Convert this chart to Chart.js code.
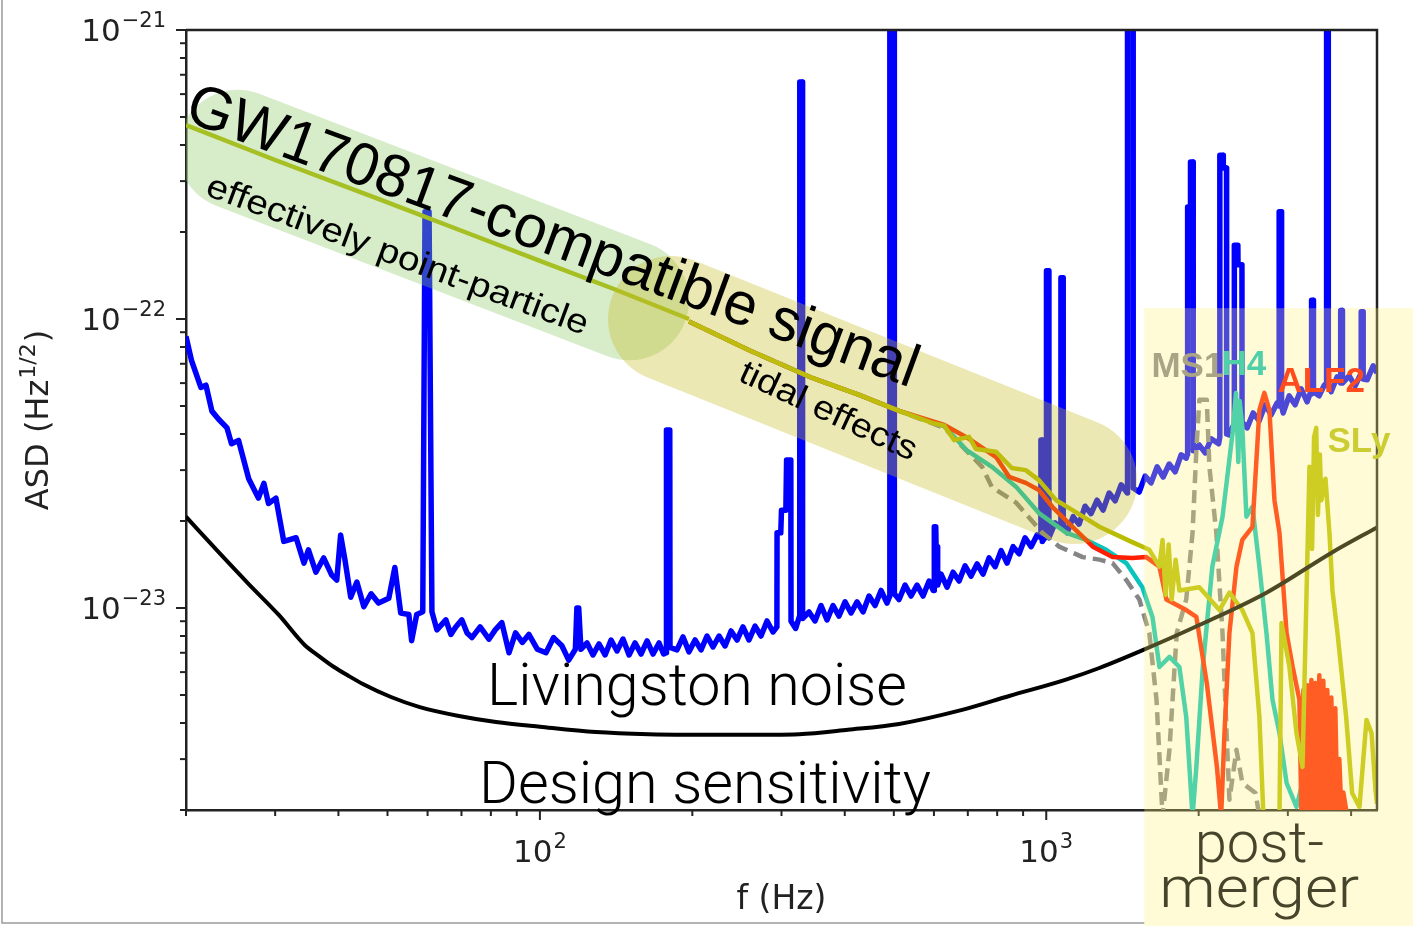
<!DOCTYPE html>
<html>
<head>
<meta charset="utf-8">
<script src="https://cdn.jsdelivr.net/npm/chart.js@4.4.0/dist/chart.umd.min.js"></script>
<style>
  html, body { margin: 0; padding: 0; background: #fff; }
</style>
</head>
<body>
<canvas id="asdChart" width="1413" height="926"></canvas>
<script>
// axis ticks (Hz and strain/sqrt(Hz))
const xTicks = [20, 30, 40, 50, 60, 70, 80, 90, 100, 200, 300, 400, 500, 600, 700, 800, 900, 1000, 2000, 3000, 4000];
const xMajor = [100, 1000];
const xMajorExp = ['2', '3'];
const yTicks = [2e-24, 3e-24, 4e-24, 5e-24, 6e-24, 7e-24, 8e-24, 9e-24,
  1e-23, 2e-23, 3e-23, 4e-23, 5e-23, 6e-23, 7e-23, 8e-23, 9e-23,
  1e-22, 2e-22, 3e-22, 4e-22, 5e-22, 6e-22, 7e-22, 8e-22, 9e-22, 1e-21];
const yMajor = [1e-23, 1e-22, 1e-21];
const yMajorExp = ['\u221223', '\u221222', '\u221221'];

// Livingston noise ASD [f, asd] (the tall pieces are the lines)
const livingstonNoise = [
  [20, 8.7e-23], [20.5, 7.2e-23], [21.4, 5.8e-23], [21.9, 5.9e-23], [22.5, 4.8e-23], [23.2, 4.5e-23],
  [24.1, 4.2e-23], [24.6, 3.7e-23], [25.4, 3.8e-23], [26.6, 2.8e-23], [27.8, 2.4e-23], [28.5, 2.7e-23],
  [29.1, 2.3e-23], [30.1, 2.4e-23], [31.2, 1.7e-23], [33.0, 1.75e-23], [34.2, 1.43e-23], [34.9, 1.59e-23],
  [36.1, 1.33e-23], [37.4, 1.49e-23], [38.8, 1.30e-23], [39.7, 1.25e-23], [40.4, 1.79e-23], [41.2, 1.47e-23],
  [42.3, 1.09e-23], [43.5, 1.23e-23], [44.9, 1.01e-23], [46.4, 1.12e-23], [48.0, 1.04e-23], [50.3, 1.08e-23],
  [51.7, 1.38e-23], [53.1, 9.6e-24], [55.1, 9.5e-24], [55.8, 7.7e-24], [57.1, 9.5e-24], [58.7, 9.7e-24],
  [59.3, 2.35e-22], [60.4, 2.35e-22], [61.2, 9.7e-24], [62.6, 8.4e-24], [65.2, 9.1e-24], [66.7, 8.1e-24],
  [68.2, 8.6e-24], [70.1, 9.1e-24], [71.8, 8.2e-24], [73.4, 7.9e-24], [76.2, 8.6e-24], [79.3, 7.8e-24],
  [81.6, 8.4e-24], [84.1, 8.9e-24], [86.9, 7.0e-24], [89.5, 8.2e-24], [92.3, 7.6e-24], [95.1, 8.1e-24],
  [98.8, 7.2e-24], [102.8, 7.0e-24], [106.4, 7.9e-24], [110.5, 7.4e-24], [114.0, 6.6e-24], [117.5, 7.2e-24],
  [118.3, 1.0e-23], [119.3, 1.0e-23], [120.5, 7.2e-24],
  [123.9, 7.57e-24], [127.3, 6.88e-24], [130.8, 7.51e-24], [134.5, 6.88e-24], [138.2, 7.75e-24], [142.0, 7.10e-24],
  [145.9, 7.81e-24], [150.0, 6.88e-24], [154.1, 7.57e-24], [158.4, 6.93e-24], [162.8, 7.69e-24], [167.3, 6.93e-24],
  [171.9, 7.57e-24], [175.5, 6.93e-24], [177.6, 7.0e-24], [177.8, 4.13e-23], [180.5, 4.13e-23], [180.7, 7.3e-24],
  [186.5, 7.16e-24], [191.7, 7.94e-24], [197.0, 7.05e-24], [202.5, 7.75e-24], [208.1, 7.16e-24], [213.8, 8.00e-24],
  [219.7, 7.33e-24], [225.8, 8.00e-24], [232.1, 7.39e-24], [238.5, 8.33e-24], [245.1, 7.75e-24], [251.8, 8.60e-24],
  [258.8, 7.75e-24], [266.0, 8.66e-24], [273.3, 8.00e-24], [280.9, 9.02e-24], [288.6, 8.26e-24],
  [293.8, 8.6e-24], [294, 1.82e-23], [299, 1.82e-23], [300, 2.18e-23], [306, 2.18e-23], [307, 3.25e-23],
  [313, 3.25e-23], [313.3, 9.0e-24], [320, 8.5e-24], [325.8, 9.4e-24], [326, 6.61e-22], [330, 6.61e-22],
  [330.2, 9.2e-24], [340.0, 9.69e-24], [349.4, 9.02e-24], [359.1, 1.02e-23], [369.0, 9.09e-24], [379.2, 1.02e-23],
  [389.7, 9.38e-24], [400.5, 1.05e-23], [411.6, 9.61e-24], [423.0, 1.05e-23], [434.7, 9.69e-24], [446.7, 1.10e-23],
  [459.1, 1.02e-23], [471.8, 1.15e-23], [484.8, 1.04e-23], [490.8, 1.1e-23], [491, 1.3e-21], [501, 1.3e-21],
  [501.2, 1.12e-23], [512.0, 1.07e-23], [526.2, 1.20e-23], [540.7, 1.10e-23], [555.7, 1.20e-23], [571.1, 1.10e-23],
  [586.9, 1.24e-23], [598, 1.15e-23], [600.8, 1.15e-23], [601, 1.91e-23], [605, 1.91e-23], [606, 1.63e-23],
  [610, 1.63e-23], [610.3, 1.2e-23], [619.8, 1.31e-23], [636.9, 1.18e-23], [654.6, 1.33e-23], [672.7, 1.24e-23],
  [691.3, 1.40e-23], [710.4, 1.29e-23], [730.1, 1.42e-23], [750.3, 1.31e-23], [771.0, 1.49e-23], [792.4, 1.39e-23],
  [814.3, 1.58e-23], [836.8, 1.43e-23], [860.0, 1.63e-23], [883.8, 1.54e-23], [908.2, 1.75e-23], [933.4, 1.63e-23],
  [959.2, 1.79e-23], [975.8, 1.75e-23], [976, 3.81e-23], [982, 3.81e-23], [982.2, 1.7e-23], [1000.8, 1.78e-23],
  [1001, 1.47e-22], [1012, 1.47e-22], [1012.2, 1.75e-23], [1041, 1.97e-23], [1068.8, 1.9e-23], [1069, 1.39e-22],
  [1080, 1.39e-22], [1080.2, 1.95e-23], [1100, 1.82e-23], [1130, 2.07e-23], [1161, 1.95e-23], [1193, 2.25e-23],
  [1226, 2.12e-23], [1260, 2.36e-23], [1295, 2.18e-23], [1331, 2.50e-23], [1368, 2.35e-23], [1406, 2.67e-23],
  [1446, 2.5e-23], [1447, 1.3e-21], [1484, 1.3e-21], [1485, 2.6e-23], [1526, 2.52e-23], [1568, 2.86e-23],
  [1611, 2.71e-23], [1656, 3.08e-23], [1702, 2.84e-23], [1749, 3.15e-23], [1797, 2.96e-23], [1847, 3.39e-23],
  [1890, 3.3e-23], [1901, 3.4e-23], [1902, 2.44e-22], [1925, 2.44e-22], [1927, 3.49e-22], [1950, 3.49e-22],
  [1951, 3.5e-23], [2004, 3.67e-23], [2060, 3.44e-23], [2117, 3.85e-23], [2190, 3.7e-23], [2201, 3.9e-23],
  [2202, 3.69e-22], [2235, 3.69e-22], [2237, 3.33e-22], [2270, 3.33e-22], [2271, 4.0e-23], [2297, 3.97e-23],
  [2345, 4.3e-23], [2351, 4.2e-23], [2352, 1.80e-22], [2390, 1.80e-22], [2392, 1.54e-22], [2435, 1.54e-22],
  [2436, 4.4e-23], [2493, 4.20e-23], [2562, 4.73e-23], [2633, 4.44e-23], [2706, 5.05e-23], [2781, 4.66e-23],
  [2858, 5.13e-23], [2883, 5.0e-23], [2884, 2.35e-22], [2915, 2.35e-22], [2916, 5.0e-23], [2937, 4.73e-23],
  [3018, 5.42e-23], [3101, 5.05e-23], [3187, 5.73e-23], [3275, 5.17e-23], [3330, 5.6e-23], [3341, 5.5e-23],
  [3342, 1.16e-22], [3370, 1.16e-22], [3371, 5.6e-23], [3459, 5.42e-23], [3540, 5.9e-23], [3577, 6.0e-23],
  [3578, 1.3e-21], [3605, 1.3e-21], [3606, 5.9e-23], [3653, 5.60e-23], [3754, 6.31e-23], [3814, 6.0e-23],
  [3815, 1.07e-22], [3845, 1.07e-22], [3846, 6.0e-23], [3965, 6.36e-23], [4075, 5.87e-23], [4170, 6.4e-23],
  [4187, 6.3e-23], [4188, 1.06e-22], [4225, 1.06e-22], [4226, 6.2e-23], [4303, 6.16e-23], [4422, 6.89e-23],
  [4500, 6.5e-23]
];

// design sensitivity (smooth black curve)
const designSensitivity = [
  [20, 2.07e-23], [23.2, 1.56e-23], [26.6, 1.21e-23], [30.5, 9.46e-24], [34.3, 7.45e-24], [36.6, 6.82e-24],
  [39.2, 6.25e-24], [41.9, 5.82e-24], [44.7, 5.46e-24], [50.8, 4.92e-24], [57.9, 4.54e-24], [69.2, 4.23e-24],
  [81.9, 4.03e-24], [100, 3.88e-24], [129, 3.72e-24], [164, 3.66e-24], [248, 3.64e-24], [325, 3.66e-24],
  [406, 3.79e-24], [512, 3.97e-24], [682, 4.44e-24], [845, 4.96e-24], [1090, 5.64e-24], [1273, 6.20e-24],
  [1555, 7.16e-24], [2006, 8.73e-24], [2722, 1.13e-23], [3675, 1.56e-23], [4500, 1.90e-23]
];

// GW170817-like signal: inspiral part, then the four EOS after ~200 Hz
const inspiral = [[20, 4.69e-22], [30, 3.55e-22], [48.1, 2.60e-22], [70, 2.02e-22], [100, 1.59e-22], [140, 1.27e-22], [197, 1.0e-22]];
const tidalCommon = [[197, 9.8e-23], [259, 7.8e-23], [345, 6.25e-23], [427, 5.46e-23], [512, 4.81e-23]];

const ms1 = [
  [629, 4.2e-23], [747, 3.08e-23], [781, 2.62e-23], [873, 2.31e-23], [982, 1.82e-23], [1061, 1.63e-23],
  [1180, 1.50e-23], [1273, 1.47e-23], [1352, 1.43e-23], [1439, 1.25e-23], [1527, 1.07e-23], [1598, 8.19e-24],
  [1651, 4.81e-24], [1697, 1.9e-24], [1751, 3.23e-24], [1810, 8.19e-24], [1890, 1.07e-23], [1945, 1.82e-23],
  [1979, 3.52e-23], [2006, 5.25e-23], [2075, 5.25e-23], [2100, 3.08e-23], [2167, 1.82e-23], [2229, 8.19e-24],
  [2271, 3.69e-24], [2300, 2.17e-24], [2375, 3.23e-24], [2439, 2.48e-24], [2590, 2.29e-24], [2636, 1.9e-24]
];
const h4 = [
  [629, 4.25e-23], [696, 3.52e-23], [781, 3.08e-23], [873, 2.62e-23], [967, 2.13e-23], [1096, 1.82e-23],
  [1200, 1.72e-23], [1313, 1.59e-23], [1439, 1.43e-23], [1548, 1.18e-23], [1621, 9.31e-24], [1673, 6.25e-24],
  [1751, 6.77e-24], [1832, 6.25e-24], [1890, 4.20e-24], [1945, 1.9e-24], [1979, 2.82e-24], [2038, 6.25e-24],
  [2128, 1.39e-23], [2229, 2.07e-23], [2333, 4.03e-23], [2370, 5.55e-23], [2395, 3.2e-23], [2410, 5.2e-23],
  [2439, 4.2e-23], [2485, 2.07e-23], [2554, 2.24e-23], [2636, 1.39e-23], [2722, 8.19e-24], [2798, 4.81e-24],
  [2888, 3.69e-24], [2983, 2.48e-24], [3120, 2.05e-24], [3207, 2.48e-24], [3291, 1.9e-24]
];
const alf2 = [
  [629, 4.3e-23], [704, 3.85e-23], [796, 3.33e-23], [845, 2.84e-23], [911, 2.71e-23], [967, 2.56e-23],
  [1028, 2.24e-23], [1127, 1.91e-23], [1236, 1.63e-23], [1352, 1.50e-23], [1479, 1.49e-23], [1576, 1.50e-23],
  [1673, 1.39e-23], [1727, 1.07e-23], [1890, 9.84e-24], [1979, 9.31e-24], [2075, 5.50e-24], [2173, 2.82e-24],
  [2215, 1.9e-24], [2249, 3.69e-24], [2300, 8.19e-24], [2375, 1.39e-23], [2439, 1.72e-23], [2554, 1.91e-23],
  [2636, 4.84e-23], [2696, 5.55e-23], [2759, 4.84e-23], [2823, 2.36e-23], [2888, 1.82e-23], [2983, 8.19e-24],
  [3067, 6.25e-24], [3162, 4.81e-24], [3191, 1.9e-24], [3220, 5.2e-24], [3249, 1.9e-24], [3279, 5.4e-24],
  [3309, 1.9e-24], [3339, 5.64e-24], [3369, 1.9e-24], [3400, 5.5e-24], [3431, 1.9e-24], [3462, 5.85e-24],
  [3494, 1.9e-24], [3526, 5.6e-24], [3558, 1.9e-24], [3590, 5.2e-24], [3623, 1.9e-24], [3656, 4.9e-24],
  [3689, 1.9e-24], [3723, 4.5e-24], [3757, 2.0e-24], [3791, 3.0e-24], [3826, 2.0e-24], [3861, 2.3e-24],
  [3930, 1.9e-24]
];
const sly = [
  [595, 4.37e-23], [629, 4.27e-23], [658, 3.81e-23], [704, 3.91e-23], [726, 3.55e-23], [796, 3.47e-23],
  [855, 3.05e-23], [911, 3.0e-23], [967, 2.77e-23], [1046, 2.36e-23], [1127, 2.18e-23], [1273, 1.91e-23],
  [1478, 1.69e-23], [1598, 1.59e-23], [1673, 1.39e-23], [1697, 1.72e-23], [1721, 1.11e-23], [1745, 1.66e-23],
  [1769, 1.07e-23], [1801, 1.47e-23], [1832, 1.15e-23], [2006, 1.18e-23], [2198, 9.84e-24], [2300, 1.13e-23],
  [2439, 9.84e-24], [2554, 8.19e-24], [2636, 4.20e-24], [2685, 1.9e-24], [2888, 1.9e-24], [2915, 8.87e-24],
  [3022, 6.25e-24], [3120, 3.69e-24], [3207, 2.82e-24], [3310, 3.08e-23], [3350, 1.6e-23], [3380, 3.9e-23],
  [3413, 4.2e-23], [3440, 2.1e-23], [3470, 3.4e-23], [3494, 2.36e-23], [3560, 2.8e-23], [3625, 1.82e-23],
  [3675, 1.15e-23], [3760, 8.19e-24], [3911, 4.20e-24], [4019, 2.29e-24], [4155, 2.05e-24], [4290, 4.1e-24],
  [4390, 3.69e-24], [4470, 2.34e-24], [4500, 2.1e-24]
];

const toXY = pts => pts.map(([x, y]) => ({ x, y }));

// annotation placements, in data coordinates (f, asd)
const bands = [
  { from: [25.3, 3.85e-22], to: [150, 1.16e-22], r: 60, color: 'rgba(140,200,100,0.35)' },
  { from: [181.5, 1.0e-22], to: [1136, 2.75e-23], r: 63, color: 'rgba(200,190,40,0.35)' }
];
const notes = [
  { text: 'GW170817-compatible signal', at: [19.7, 4.88e-22], angle: 20.2, size: 60, width: 775 },
  { text: 'effectively point-particle', at: [21.7, 2.69e-22], angle: 20.3, size: 34, width: 405 },
  { text: 'tidal effects', at: [245, 6.15e-23], angle: 25, size: 34, width: 192 },
  { text: 'Livingston noise', at: [78.6, 4.62e-24], size: 60, width: 420, family: 'Roboto', weight: '300' },
  { text: 'Design sensitivity', at: [75.8, 2.11e-24], size: 60, width: 452, family: 'Roboto', weight: '300' }
];
const postMerger = { from: [1562, 1.09e-22], color: 'rgba(255,242,118,0.3)' };
const eosLabels = [
  { text: 'MS1', at: [1613, 6.30e-23], color: '#a8a485' },
  { text: 'H4', at: [2218, 6.40e-23], color: '#4fd0a9' },
  { text: 'ALF2', at: [2861, 5.59e-23], color: '#ff4b1e' },
  { text: 'SLy', at: [3593, 3.47e-23], color: '#cccc33' }
];

function fitText(ctx, t, x, y) {
  ctx.save();
  ctx.font = (t.weight || 'normal') + ' ' + t.size + 'px "' + (t.family || 'Liberation Sans') + '"';
  ctx.translate(x, y);
  ctx.rotate((t.angle || 0) * Math.PI / 180);
  const w = ctx.measureText(t.text).width;
  if (t.width) ctx.scale(t.width / w, 1);
  ctx.fillStyle = t.color || '#000';
  ctx.textAlign = t.align || 'left';
  ctx.textBaseline = 'alphabetic';
  ctx.fillText(t.text, 0, 0);
  ctx.restore();
}

function pill(ctx, p1, p2, r, color) {
  const a = Math.atan2(p2[1] - p1[1], p2[0] - p1[0]);
  const len = Math.hypot(p2[0] - p1[0], p2[1] - p1[1]);
  ctx.save();
  ctx.translate(p1[0], p1[1]);
  ctx.rotate(a);
  ctx.beginPath();
  ctx.arc(0, 0, r, Math.PI / 2, Math.PI * 1.5);
  ctx.lineTo(len, -r);
  ctx.arc(len, 0, r, -Math.PI / 2, Math.PI / 2);
  ctx.closePath();
  ctx.fillStyle = color;
  ctx.fill();
  ctx.restore();
}

// power-of-ten label, "10" with a raised exponent
function powLabel(ctx, exp, x, y, align) {
  ctx.save();
  ctx.fillStyle = '#222';
  ctx.textBaseline = 'alphabetic';
  ctx.textAlign = 'left';
  ctx.font = '31px "DejaVu Sans"';
  const wb = ctx.measureText('10').width;
  ctx.font = '21px "DejaVu Sans"';
  const we = ctx.measureText(exp).width;
  const x0 = align === 'right' ? x - wb - we - 1 : x - (wb + we + 1) / 2;
  ctx.font = '31px "DejaVu Sans"';
  ctx.fillText('10', x0, y);
  ctx.font = '21px "DejaVu Sans"';
  ctx.fillText(exp, x0 + wb + 1, y - 14);
  ctx.restore();
}

const annotate = {
  id: 'annotate',
  afterDatasetsDraw(chart) {
    const { ctx, chartArea: a, scales: { x, y } } = chart;
    const P = ([f, v]) => [x.getPixelForValue(f), y.getPixelForValue(v)];

    // frame top / right
    ctx.save();
    ctx.strokeStyle = '#222';
    ctx.lineWidth = 2.5;
    ctx.beginPath();
    ctx.moveTo(a.left, a.top); ctx.lineTo(a.right, a.top); ctx.lineTo(a.right, a.bottom);
    ctx.stroke();

    // tick marks, long for decades
    ctx.lineWidth = 2;
    x.ticks.forEach(t => {
      const px = x.getPixelForValue(t.value);
      const len = xMajor.includes(t.value) ? 10 : 6;
      ctx.beginPath(); ctx.moveTo(px, a.bottom); ctx.lineTo(px, a.bottom + len); ctx.stroke();
    });
    y.ticks.forEach(t => {
      const py = y.getPixelForValue(t.value);
      const len = yMajor.includes(t.value) ? 10 : 6;
      ctx.beginPath(); ctx.moveTo(a.left, py); ctx.lineTo(a.left - len, py); ctx.stroke();
    });
    ctx.restore();

    xMajor.forEach((v, i) => powLabel(ctx, xMajorExp[i], x.getPixelForValue(v), a.bottom + 52, 'center'));
    yMajor.forEach((v, i) => powLabel(ctx, yMajorExp[i], a.left - 20, y.getPixelForValue(v) + 11, 'right'));

    // y title with Hz^(1/2)
    ctx.save();
    ctx.translate(48, (a.top + a.bottom) / 2);
    ctx.rotate(-Math.PI / 2);
    ctx.fillStyle = '#222';
    ctx.font = '32px "DejaVu Sans"';
    const wa = ctx.measureText('ASD (Hz').width, wc = ctx.measureText(')').width;
    ctx.font = '22px "DejaVu Sans"';
    const wsup = ctx.measureText('1/2').width;
    let tx = -(wa + wsup + wc + 2) / 2;
    ctx.font = '32px "DejaVu Sans"';
    ctx.fillText('ASD (Hz', tx, 0); tx += wa + 1;
    ctx.font = '22px "DejaVu Sans"';
    ctx.fillText('1/2', tx, -13); tx += wsup + 1;
    ctx.font = '32px "DejaVu Sans"';
    ctx.fillText(')', tx, 0);
    ctx.restore();

    // shaded bands along the signal
    ctx.save();
    ctx.beginPath(); ctx.rect(a.left, a.top, a.right - a.left, a.bottom - a.top); ctx.clip();
    bands.forEach(b => pill(ctx, P(b.from), P(b.to), b.r, b.color));
    ctx.restore();

    notes.forEach(n => { const [px, py] = P(n.at); fitText(ctx, n, px, py); });
  },
  afterDraw(chart) {
    const { ctx, scales: { x, y }, width, height } = chart;
    const bx = x.getPixelForValue(postMerger.from[0]);
    const by = y.getPixelForValue(postMerger.from[1]);

    // thin outer border (left / bottom)
    ctx.save();
    ctx.strokeStyle = '#9a9a9a';
    ctx.lineWidth = 1.5;
    ctx.beginPath();
    ctx.moveTo(2, 0); ctx.lineTo(2, height - 3); ctx.lineTo(bx, height - 3);
    ctx.stroke();

    ctx.fillStyle = postMerger.color;
    ctx.fillRect(bx, by, width - bx, height - by);
    ctx.restore();

    eosLabels.forEach(l => {
      fitText(ctx, Object.assign({ size: 35, weight: 'bold' }, l), x.getPixelForValue(l.at[0]), y.getPixelForValue(l.at[1]));
    });

    const cx = bx + 115;
    const pm = { size: 58, family: 'Roboto', weight: '300', color: '#46452b', align: 'center' };
    fitText(ctx, Object.assign({ text: 'post-' }, pm), cx, height - 64);
    fitText(ctx, Object.assign({ text: 'merger', width: 200 }, pm), cx, height - 19);
  }
};

const line = (data, color, width, order, extra) => Object.assign({
  data: toXY(data), borderColor: color, borderWidth: width, order: order,
  pointRadius: 0, fill: false, clip: 0
}, extra || {});

new Chart(document.getElementById('asdChart'), {
  type: 'line',
  data: {
    datasets: [
      line(livingstonNoise, '#0000ff', 5.5, 7),
      line(tidalCommon.concat(ms1), '#858585', 4.5, 6, { borderDash: [13, 7] }),
      line(tidalCommon.concat(h4), '#08c4bc', 4.5, 5),
      line(tidalCommon.concat(alf2), '#ff1e00', 4.5, 4),
      line(tidalCommon.concat(sly), '#b8bd00', 4.5, 3),
      line(designSensitivity, '#000000', 4, 2, { cubicInterpolationMode: 'monotone' }),
      line(inspiral, '#b4ba00', 4.5, 1)
    ]
  },
  options: {
    responsive: false,
    animation: false,
    devicePixelRatio: 1,
    layout: { padding: { top: 30, right: 36, bottom: 0, left: 0 } },
    plugins: { legend: { display: false }, tooltip: { enabled: false } },
    elements: { line: { tension: 0, borderJoinStyle: 'round' } },
    scales: {
      x: {
        type: 'logarithmic', min: 20, max: 4500,
        grid: { display: false, drawTicks: false },
        border: { display: true, color: '#222', width: 2.5 },
        ticks: { display: false },
        afterBuildTicks: s => { s.ticks = xTicks.map(v => ({ value: v, major: xMajor.includes(v) })); },
        afterFit: s => { s.height = 116; },
        title: { display: true, text: 'f (Hz)', color: '#222', font: { family: 'DejaVu Sans', size: 33 }, padding: { top: 0, bottom: 6 } }
      },
      y: {
        type: 'logarithmic', min: 2e-24, max: 1e-21,
        grid: { display: false, drawTicks: false },
        border: { display: true, color: '#222', width: 2.5 },
        ticks: { display: false },
        afterBuildTicks: s => { s.ticks = yTicks.map(v => ({ value: v, major: yMajor.includes(v) })); },
        afterFit: s => { s.width = 186; }
      }
    }
  },
  plugins: [annotate]
});
</script>
</body>
</html>
